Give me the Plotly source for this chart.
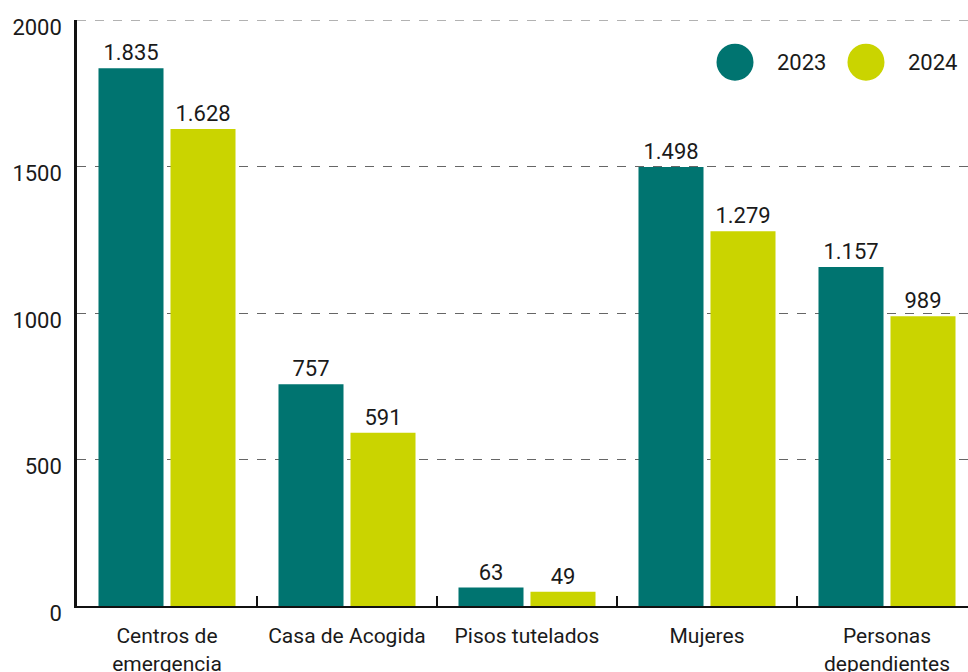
import plotly.graph_objects as go

# Plazas por tipo de recurso, 2023 frente a 2024
categorias = ["Centros de<br>emergencia", "Casa de Acogida", "Pisos tutelados",
              "Mujeres", "Personas<br>dependientes"]
valores_2023 = [1835, 757, 63, 1498, 1157]
valores_2024 = [1628, 591, 49, 1279, 989]
anios = ["2023", "2024"]
y_ticks = [0, 500, 1000, 1500, 2000]

TEAL = "#007470"
LIMA = "#CAD400"
TEXTO = "#1a1a1a"
GRID = "#666"
FUENTE = "Roboto, Lato, sans-serif"


def miles(v):
    return f"{v:,}".replace(",", ".")


fig = go.Figure()
for nombre, vals, color in [(anios[0], valores_2023, TEAL), (anios[1], valores_2024, LIMA)]:
    fig.add_trace(go.Bar(
        x=categorias, y=vals, name=nombre,
        marker=dict(color=color, line=dict(width=0)),
        text=[miles(v) for v in vals],
        textposition="outside",
        textfont=dict(family=FUENTE, size=22, color=TEXTO),
        cliponaxis=False,
        showlegend=False,
    ))

# Línea discontinua superior (2000), que la rejilla no dibuja en el borde
fig.add_shape(type="line", xref="paper", yref="y", x0=0, x1=1,
              y0=y_ticks[-1], y1=y_ticks[-1],
              line=dict(color=GRID, width=1, dash="dash"), layer="below")

# Leyenda con círculos
for i, (nombre, color) in enumerate([(anios[0], TEAL), (anios[1], LIMA)]):
    cx = 0.7385 + i * 0.147
    fig.add_shape(type="circle", xref="paper", yref="paper",
                  xsizemode="pixel", ysizemode="pixel",
                  xanchor=cx, yanchor=0.928,
                  x0=-18.5, x1=18.5, y0=-18.5, y1=18.5,
                  fillcolor=color, line=dict(width=0))
    fig.add_annotation(xref="paper", yref="paper", x=cx + 0.0445, y=0.928,
                       text=nombre, showarrow=False, xanchor="left", yanchor="middle",
                       font=dict(family=FUENTE, size=22, color=TEXTO))

fig.update_layout(
    width=968, height=672,
    margin=dict(l=77, r=0, t=20, b=66),
    paper_bgcolor="white", plot_bgcolor="white",
    barmode="group", bargap=0.2, bargroupgap=0.097,
    font=dict(family=FUENTE, size=22, color=TEXTO),
    xaxis=dict(
        range=[-0.5, 4.45], automargin=False, tickangle=0,
        showline=True, linecolor="#111", linewidth=2,
        ticks="inside", tickson="boundaries", ticklen=10, tickwidth=2, tickcolor="#111",
        ticklabelstandoff=10,
        tickfont=dict(family=FUENTE, size=21, color=TEXTO),
        showgrid=False, zeroline=False,
    ),
    yaxis=dict(
        range=[0, 2000], tickvals=y_ticks, ticktext=[str(t) for t in y_ticks],
        automargin=False,
        showline=True, linecolor="#111", linewidth=2.5,
        showgrid=True, gridcolor=GRID, griddash="dash", gridwidth=1,
        zeroline=False, ticks="",
        ticklabelstandoff=8, ticklabelshift=7,
        tickfont=dict(family=FUENTE, size=22, color=TEXTO),
    ),
)

fig.write_html("out.html")
